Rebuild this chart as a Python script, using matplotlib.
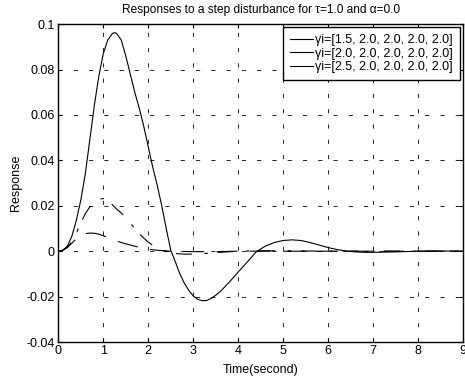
import matplotlib
matplotlib.use("Agg")
import matplotlib.pyplot as plt
from matplotlib.lines import Line2D

plt.rcParams["font.family"] = ["Liberation Sans", "DejaVu Sans"]
plt.rcParams["font.size"] = 9
plt.rcParams["lines.scale_dashes"] = False

# series
t1 = [0.0, 0.1, 0.2, 0.3, 0.4, 0.5, 0.6, 0.7, 0.8, 0.9, 1.0, 1.1, 1.2, 1.25, 1.3,
      1.4, 1.5, 1.6, 1.7, 1.8, 1.9, 2.0, 2.1, 2.2, 2.3, 2.4, 2.5, 2.6, 2.7, 2.8,
      2.9, 3.0, 3.1, 3.2, 3.3, 3.4, 3.5, 3.6, 3.8, 4.0, 4.2, 4.4, 4.6, 4.8, 5.0,
      5.2, 5.4, 5.6, 5.8, 6.0, 6.2, 6.4, 6.6, 6.8, 7.0, 7.5, 8.0, 8.5, 9.0]
y1 = [0.0, 0.0004, 0.0022, 0.0065, 0.0135, 0.0225, 0.034, 0.049, 0.064, 0.077,
      0.087, 0.093, 0.0958, 0.0963, 0.0958, 0.093, 0.086, 0.078, 0.070, 0.063,
      0.055, 0.046, 0.037, 0.029, 0.020, 0.010, 0.0005, -0.0045, -0.0098,
      -0.0140, -0.0172, -0.0197, -0.0212, -0.0218, -0.0217, -0.0208, -0.0194,
      -0.0178, -0.0137, -0.0092, -0.0048, -0.0003, 0.0022, 0.0038, 0.0047,
      0.0050, 0.0047, 0.0038, 0.0027, 0.0016, 0.0007, 0.0001, -0.0003, -0.0005,
      -0.0005, -0.0003, 0.0, 0.0001, 0.0]

t2 = [0.0, 0.1, 0.2, 0.3, 0.4, 0.5, 0.6, 0.7, 0.8, 0.9, 1.0, 1.1, 1.2, 1.3, 1.4,
      1.5, 1.6, 1.7, 1.8, 1.9, 2.0, 2.2, 2.4, 2.6, 2.8, 3.0, 3.2, 3.5, 4.0, 4.5,
      5.0, 6.0, 7.0, 8.0, 9.0]
y2 = [0.0, 0.0004, 0.0017, 0.004, 0.008, 0.0125, 0.0165, 0.0195, 0.0218, 0.0228,
      0.0232, 0.0225, 0.0205, 0.0185, 0.0168, 0.0148, 0.0124, 0.0100, 0.0078,
      0.0058, 0.0040, 0.0012, -0.0003, -0.0010, -0.0013, -0.0013, -0.0011,
      -0.0006, 0.0, 0.0002, 0.0002, 0.0, 0.0, 0.0, 0.0]

t3 = [0.0, 0.1, 0.2, 0.3, 0.4, 0.5, 0.6, 0.7, 0.8, 0.9, 1.0, 1.1, 1.2, 1.4, 1.6,
      1.8, 2.0, 2.2, 2.5, 3.0, 3.5, 4.0, 5.0, 6.0, 7.0, 8.0, 9.0]
y3 = [0.0, 0.0004, 0.0016, 0.0035, 0.0055, 0.0068, 0.0077, 0.0080, 0.0079,
      0.0075, 0.0068, 0.0060, 0.0052, 0.0038, 0.0027, 0.0017, 0.0009, 0.0004,
      0.0, -0.0002, -0.0002, 0.0, 0.0, 0.0, 0.0, 0.0, 0.0]

labels = ["γi=[1.5, 2.0, 2.0, 2.0, 2.0]",
          "γi=[2.0, 2.0, 2.0, 2.0, 2.0]",
          "γi=[2.5, 2.0, 2.0, 2.0, 2.0]"]
xticks = [0, 1, 2, 3, 4, 5, 6, 7, 8, 9]
yticks = [-0.04, -0.02, 0, 0.02, 0.04, 0.06, 0.08, 0.1]
ytick_labels = ["-0.04", "-0.02", "0", "0.02", "0.04", "0.06", "0.08", "0.1"]

fig = plt.figure(figsize=(4.65, 3.83), dpi=100)
ax = fig.add_axes([0.1254, 0.107, 0.8703, 0.830])

ax.plot(t1, y1, color="black", lw=0.8)
ax.plot(t2, y2, color="black", lw=0.8, linestyle=(0, (11.5, 9, 2.5, 7)))
ax.plot(t3, y3, color="black", lw=0.8, linestyle=(0, (15, 9)))

ax.set_xlim(0, 9)
ax.set_ylim(-0.04, 0.1)
ax.set_xticks(xticks)
ax.set_yticks(yticks)
ax.set_yticklabels(ytick_labels)
ax.tick_params(direction="in", top=True, right=True, length=3, width=0.8, pad=2.5)
ax.grid(True, color="black", lw=0.6, linestyle=(0, (3, 8)))
for s in ax.spines.values():
    s.set_linewidth(1.0)

ax.set_title("Responses to a step disturbance for τ=1.0 and α=0.0", fontsize=8.6, pad=8)
ax.set_xlabel("Time(second)", labelpad=5)
ax.set_ylabel("Response", labelpad=3)

handles = [Line2D([], [], color="black", lw=0.8) for _ in labels]
leg = ax.legend(handles, labels, loc="upper right", fancybox=False, framealpha=1,
                edgecolor="black", borderaxespad=0.25, handlelength=1.85,
                handletextpad=0.2, labelspacing=0.12, borderpad=0.55)
leg.get_frame().set_linewidth(1.0)

fig.savefig("out.png", dpi=100)
